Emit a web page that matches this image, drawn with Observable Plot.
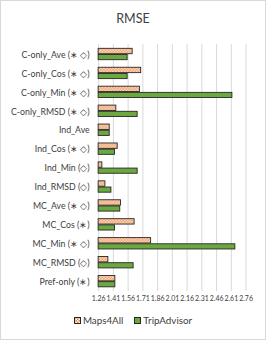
<!DOCTYPE html>
<html>
<head>
<meta charset="utf-8">
<script src="https://cdn.jsdelivr.net/npm/d3@7"></script>
<script src="https://cdn.jsdelivr.net/npm/@observablehq/plot@0.6"></script>
<style>
  html, body { margin: 0; padding: 0; background: #fff; }
  #frame { position: relative; width: 264px; height: 338px; border: 1px solid #d9d9d9; background: #fff; overflow: hidden; font-family: Lato, "Open Sans", sans-serif; }
  #title { position: absolute; left: 0; top: 10px; width: 264px; text-align: center; font-size: 12.5px; color: #404040; }
  #chart { position: absolute; left: -1px; top: 29px; }
  #legend { position: absolute; left: 0; top: 313px; width: 264px; display: flex; justify-content: center; gap: 11px; font-size: 9.8px; color: #404040; }
  #legend span { display: inline-flex; align-items: center; gap: 2px; }
  #legend svg { display: block; }
</style>
</head>
<body>
<div id="frame">
  <div id="title">RMSE</div>
  <div id="chart"></div>
  <div id="legend"></div>
</div>
<script>
const categories = ["C-only_Ave (∗ ◇)", "C-only_Cos (∗ ◇)", "C-only_Min (∗ ◇)", "C-only_RMSD (∗ ◇)", "Ind_Ave", "Ind_Cos (∗ ◇)", "Ind_Min (◇)", "Ind_RMSD (◇)", "MC_Ave (∗ ◇)", "MC_Cos (∗)", "MC_Min (∗ ◇)", "MC_RMSD (◇)", "Pref-only (∗)"];
const maps4all = [1.606, 1.693, 1.680, 1.440, 1.373, 1.454, 1.298, 1.329, 1.488, 1.626, 1.794, 1.359, 1.430];
const tripadvisor = [1.555, 1.555, 2.621, 1.657, 1.373, 1.427, 1.657, 1.390, 1.480, 1.427, 2.651, 1.616, 1.430];
const tickValues = [1.26, 1.41, 1.56, 1.71, 1.86, 2.01, 2.16, 2.31, 2.46, 2.61, 2.76];
const seriesNames = ["Maps4All", "TripAdvisor"];

const base = tickValues[0];
const dataM = categories.map((c, i) => ({cat: c, v: maps4all[i]}));
const dataT = categories.map((c, i) => ({cat: c, v: tripadvisor[i]}));

const plot = Plot.plot({
  width: 266,
  height: 280,
  marginLeft: 98.5,
  marginRight: 19.5,
  marginTop: 14,
  marginBottom: 18,
  style: {fontFamily: "Lato, 'Open Sans', sans-serif", color: "#404040", background: "transparent"},
  x: {domain: [tickValues[0], tickValues[tickValues.length - 1]], ticks: tickValues, tickFormat: d => d.toFixed(2), label: null, tickSize: 0, tickPadding: 5},
  y: {domain: categories, label: null, padding: 0, tickSize: 0, tickPadding: 9},
  marks: [
    Plot.gridX(tickValues, {stroke: "#d9d9d9", strokeOpacity: 1, strokeWidth: 1}),
    Plot.barX(dataM, {x1: () => base, x2: "v", y: "cat", fill: "url(#m4a)", stroke: "#262626", strokeWidth: 0.9, insetTop: 3.4, insetBottom: 10.2}),
    Plot.barX(dataT, {x1: () => base, x2: "v", y: "cat", fill: "#6BA83F", stroke: "#262626", strokeWidth: 0.9, insetTop: 9.6, insetBottom: 4.2}),
    Plot.axisX({ticks: tickValues, tickFormat: d => d.toFixed(2), tickSize: 0, tickPadding: 5, fontSize: 7, fill: "#404040"}),
    Plot.axisY({tickSize: 0, tickPadding: 9, fontSize: 8.8, fill: "#404040"})
  ]
});
plot.insertAdjacentHTML("afterbegin",
  '<defs><pattern id="m4a" width="3" height="3" patternUnits="userSpaceOnUse">' +
  '<rect width="3" height="3" fill="#ED7D31"/>' +
  '<rect width="1.5" height="1.5" fill="#fff"/>' +
  '<rect x="1.5" y="1.5" width="1.5" height="1.5" fill="#fff"/></pattern></defs>');
document.getElementById("chart").appendChild(plot);

const legend = document.getElementById("legend");
const fills = ["url(#m4a)", "#6BA83F"];
seriesNames.forEach((n, i) => {
  const s = document.createElement("span");
  s.innerHTML = '<svg width="7" height="7"><rect x="0.5" y="0.5" width="6" height="6" fill="' + fills[i] + '" stroke="#262626" stroke-width="1"/></svg>' + n;
  legend.appendChild(s);
});
</script>
</body>
</html>
